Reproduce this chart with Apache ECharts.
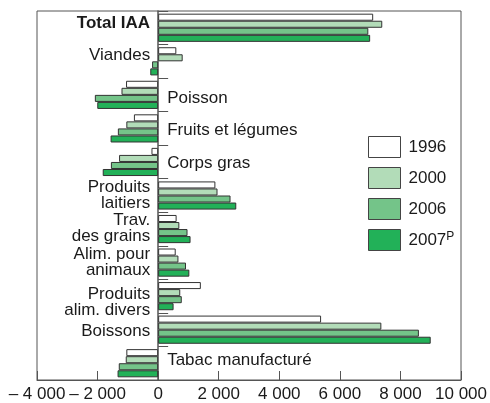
<!DOCTYPE html>
<html><head><meta charset="utf-8">
<script src="https://cdn.jsdelivr.net/npm/echarts@6/dist/echarts.min.js"></script>
<style>html,body{margin:0;padding:0;background:#fff}#c{width:490px;height:403px}</style>
</head><body><div id="c"></div>
<script>
const categories = ['Total IAA','Viandes','Poisson','Fruits et légumes','Corps gras','Produits\nlaitiers','Trav.\ndes grains','Alim. pour\nanimaux','Produits\nalim. divers','Boissons','Tabac manufacturé'];
const years = ['1996','2000','2006','2007P'];
const v1996 = [7100, 600, -1060, -800, -220, 1890, 610, 580, 1410, 5380, -1050];
const v2000 = [7400, 810, -1210, -1050, -1290, 1960, 700, 670, 730, 7370, -1070];
const v2006 = [6940, -200, -2090, -1330, -1560, 2390, 970, 920, 780, 8610, -1300];
const v2007 = [7000, -260, -2010, -1570, -1830, 2580, 1070, 1030, 510, 9000, -1340];
const xTicks = { min: -4000, max: 10000, step: 2000 };
const labelDy = [-4, -6, 3, 2, 1, 0, -1, 0, 6, 2, -3];

const seriesValues = [v1996, v2000, v2006, v2007];
const colors = ['#ffffff', '#b2dcb8', '#74c489', '#22b158'];
const FONT = 'Liberation Sans, Arial, sans-serif';

function fmt(v) {
  const s = Math.abs(v).toString().replace(/\B(?=(\d{3})+(?!\d))/g, ' ');
  return v < 0 ? '\u2013 ' + s : s;
}

const chart = echarts.init(document.getElementById('c'), null, { renderer: 'canvas' });
const barSeries = years.map((y, k) => ({
  name: y, type: 'bar', data: seriesValues[k],
  barGap: '0%', barCategoryGap: '16%',
  itemStyle: { color: colors[k], borderColor: '#333', borderWidth: 1 },
  emphasis: { disabled: true }, animation: false
}));

const labelSeries = {
  type: 'custom', coordinateSystem: 'cartesian2d', silent: true, animation: false, clip: false, z: 10,
  data: categories.map((c, i) => [0, i]),
  encode: { x: 0, y: 1 },
  renderItem: function (params, api) {
    const i = params.dataIndex;
    const p = api.coord([0, i]);
    const maxV = Math.max(...seriesValues.map(s => s[i]));
    const left = maxV > 0;
    return {
      type: 'text',
      x: p[0] + (left ? -8 : 9), y: p[1] + labelDy[i],
      style: {
        text: categories[i], fill: '#1a1a1a', font: (i === 0 ? 'bold ' : '') + '17px ' + FONT,
        align: left ? 'right' : 'left', verticalAlign: 'middle', lineHeight: 16
      }
    };
  }
};

chart.setOption({
  animation: false,
  textStyle: { fontFamily: FONT },
  grid: { left: 37, right: 27, top: 11, bottom: 22, show: true, borderColor: '#555', borderWidth: 1, containLabel: false },
  legend: {
    data: years, orient: 'vertical', left: 368, top: 136, padding: 0, itemWidth: 32, itemHeight: 21, itemGap: 9,
    icon: 'rect',
    itemStyle: { borderColor: '#444', borderWidth: 1 },
    formatter: n => n === '2007P' ? '2007{s|P}' : n,
    textStyle: { fontSize: 17, color: '#1a1a1a', fontFamily: FONT, padding: [0, 0, 0, 3],
      rich: { s: { fontSize: 12, verticalAlign: 'top', padding: [0, 0, 6, 0], fontFamily: FONT, color: '#1a1a1a' } } },
    selectedMode: false
  },
  xAxis: {
    type: 'value', min: xTicks.min, max: xTicks.max, interval: xTicks.step,
    axisLine: { show: true, onZero: false, lineStyle: { color: '#555', width: 1 } },
    axisTick: { show: true, inside: true, length: 9, lineStyle: { color: '#555' } },
    splitLine: { show: false },
    axisLabel: { formatter: fmt, fontSize: 17, color: '#1a1a1a', margin: 6, fontFamily: FONT }
  },
  yAxis: {
    type: 'category', data: categories, inverse: true,
    axisLine: { show: true, onZero: true, lineStyle: { color: '#555', width: 1.5 } },
    axisTick: { show: true, inside: true, length: 10, lineStyle: { color: '#555' } },
    axisLabel: { show: false },
    splitLine: { show: false }
  },
  series: barSeries.concat([labelSeries])
});
</script>
</body></html>
